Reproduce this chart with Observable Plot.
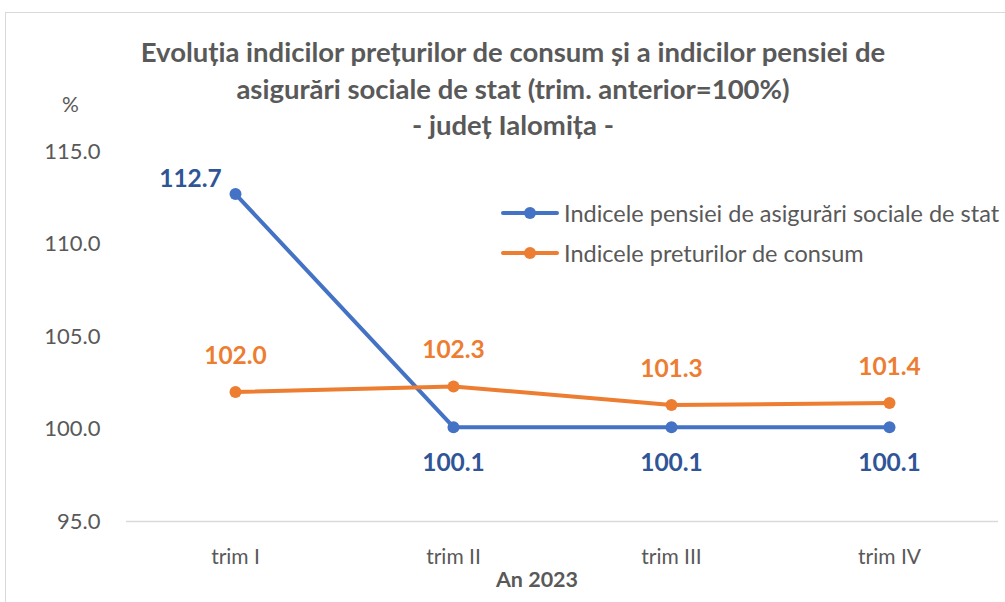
<!DOCTYPE html>
<html><head><meta charset="utf-8">
<script src="https://cdn.jsdelivr.net/npm/d3@7"></script>
<script src="https://cdn.jsdelivr.net/npm/@observablehq/plot@0.6"></script>
<style>
body{margin:0;overflow:hidden;background:#fff;font-family:Lato,"Open Sans",sans-serif}
#wrap{position:relative;width:1005px;height:602px;overflow:hidden;background:#fff}
#frame{position:absolute;left:5px;top:12px;width:1100px;height:700px;border:1px solid #d9d9d9}
#chart{position:absolute;left:0;top:0}
#title{position:absolute;left:0;width:1026px;top:34px;text-align:center;font-weight:bold;font-size:27.5px;line-height:36.5px;color:#595959}
#pct{position:absolute;left:62px;top:91px;font-size:21px;color:#595959}
#xlab{position:absolute;left:0;width:1074px;top:566px;text-align:center;font-weight:bold;font-size:21.5px;color:#595959}
#legend{position:absolute;left:500px;top:193px;font-size:23.5px;color:#595959}
.li{display:flex;align-items:center;height:40px}
.li svg{margin-right:4px}
</style></head>
<body>
<div id="wrap">
<div id="frame"></div>
<div id="chart"></div>
<div id="title"></div>
<div id="pct">%</div>
<div id="xlab"></div>
<div id="legend"></div>
</div>
<script>
const quarters = ["trim I", "trim II", "trim III", "trim IV"];
const pensionIndex = [112.7, 100.1, 100.1, 100.1];
const priceIndex = [102.0, 102.3, 101.3, 101.4];
const seriesNames = ["Indicele pensiei de asigurări sociale de stat", "Indicele preturilor de consum"];
const yTicks = [95, 100, 105, 110, 115];
const titleLines = ["Evoluția indicilor prețurilor de consum și a indicilor pensiei de", "asigurări sociale de stat (trim. anterior=100%)", "- județ Ialomița -"];
const xTitle = "An 2023";

const blue = "#4472C4", blueLab = "#2F5597", orange = "#ED7D31", grey = "#595959";

const pension = quarters.map((q, i) => ({q, v: pensionIndex[i], i}));
const prices = quarters.map((q, i) => ({q, v: priceIndex[i], i}));

const chart = Plot.plot({
  width: 1005, height: 602,
  marginLeft: 126, marginRight: 7, marginTop: 151, marginBottom: 81,
  style: {fontFamily: "Lato, 'Open Sans', sans-serif", background: "transparent"},
  x: {type: "point", domain: quarters, padding: 0.5},
  y: {domain: [95, 115]},
  marks: [
    Plot.ruleX([0], {frameAnchor: "left", stroke: "#b4c7e7", strokeWidth: 1}),
    Plot.ruleY([95], {stroke: "#d9d9d9", strokeWidth: 1.5}),
    Plot.axisY({ticks: yTicks, tickFormat: d => d.toFixed(1), tickSize: 0, tickPadding: 26, fontSize: 22, color: grey, label: null}),
    Plot.axisX({tickSize: 0, tickPadding: 28, fontSize: 21, color: grey, label: null}),
    Plot.line(pension, {x: "q", y: "v", stroke: blue, strokeWidth: 4}),
    Plot.dot(pension, {x: "q", y: "v", fill: blue, r: 6}),
    Plot.line(prices, {x: "q", y: "v", stroke: orange, strokeWidth: 4}),
    Plot.dot(prices, {x: "q", y: "v", fill: orange, r: 6}),
    Plot.text(pension.filter(d => d.i === 0), {x: "q", y: "v", text: d => d.v.toFixed(1), dx: -45, dy: -15, fill: blueLab, fontWeight: "bold", fontSize: 24.5}),
    Plot.text(pension.filter(d => d.i > 0), {x: "q", y: "v", text: d => d.v.toFixed(1), dy: 36, fill: blueLab, fontWeight: "bold", fontSize: 24.5}),
    Plot.text(prices, {x: "q", y: "v", text: d => d.v.toFixed(1), dy: -36, fill: orange, fontWeight: "bold", fontSize: 24.5})
  ]
});
document.getElementById("chart").append(chart);

document.getElementById("title").innerHTML = titleLines.map(t => `<div>${t}</div>`).join("");
document.getElementById("xlab").textContent = xTitle;
const cols = [blue, orange];
document.getElementById("legend").innerHTML = seriesNames.map((n, i) =>
  `<div class="li"><svg width="60" height="14"><line x1="3" x2="57" y1="7" y2="7" stroke="${cols[i]}" stroke-width="4" stroke-linecap="round"/><circle cx="30" cy="7" r="6" fill="${cols[i]}"/></svg><span>${n}</span></div>`).join("");
</script>
</body></html>
